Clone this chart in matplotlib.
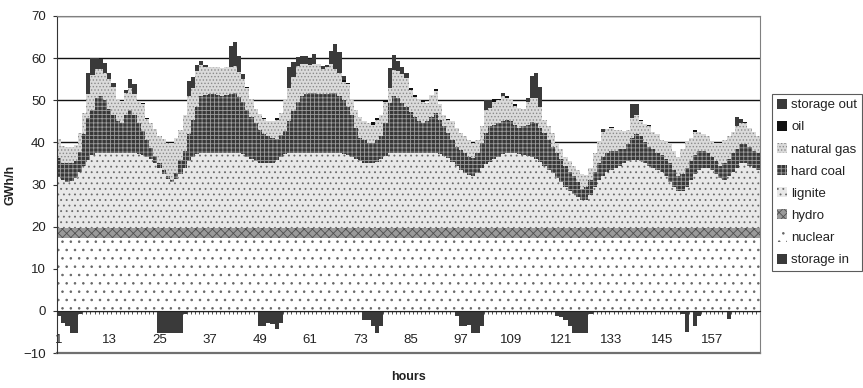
import numpy as np
import matplotlib.pyplot as plt
from matplotlib.patches import Patch

plt.rcParams['font.family'] = ['Liberation Sans', 'DejaVu Sans']
plt.rcParams['hatch.linewidth'] = 0.6

hours = np.arange(1, 169)

# GWh/h per hour, one line per day
nuclear = [17.3] * 168
hydro = [2.3] * 168

# upper edge of each stacked layer
lignite_top = [
	31.8, 31.0, 30.7, 30.8, 31.5, 33.0, 34.5, 35.9, 37.0, 37.5, 37.5, 37.5, 37.5, 37.5, 37.5, 37.5, 37.5, 37.5, 37.5, 37.3, 37.0, 36.6, 36.0, 35.2,
	34.0, 32.6, 31.4, 30.7, 31.2, 32.5, 34.0, 35.5, 36.6, 37.3, 37.5, 37.5, 37.5, 37.5, 37.5, 37.5, 37.5, 37.5, 37.5, 37.5, 37.2, 36.6, 36.0, 35.5,
	35.2, 35.0, 35.0, 35.2, 35.8, 36.5, 37.2, 37.5, 37.5, 37.5, 37.5, 37.5, 37.5, 37.5, 37.5, 37.5, 37.5, 37.5, 37.5, 37.5, 37.3, 37.0, 36.5, 36.0,
	35.5, 35.2, 35.0, 35.0, 35.3, 36.0, 36.8, 37.5, 37.5, 37.5, 37.5, 37.5, 37.5, 37.5, 37.5, 37.5, 37.5, 37.5, 37.5, 37.2, 36.8, 36.2, 35.3, 34.3,
	33.5, 32.8, 32.2, 32.0, 32.8, 34.0, 34.8, 35.3, 36.0, 36.5, 37.2, 37.5, 37.5, 37.5, 37.3, 37.0, 36.8, 36.5, 36.0, 35.3, 34.5, 33.5, 32.8, 31.5,
	30.5, 29.5, 28.5, 27.8, 27.0, 26.4, 26.4, 27.5, 29.5, 31.0, 32.0, 33.0, 33.5, 34.0, 34.5, 35.0, 35.5, 35.7, 35.8, 35.6, 35.0, 34.5, 34.0, 33.5,
	33.0, 32.0, 30.5, 29.3, 28.5, 28.5, 29.5, 31.0, 32.5, 33.5, 34.0, 34.0, 33.5, 32.5, 31.5, 31.0, 32.0, 33.0, 34.0, 35.0, 35.0, 34.5, 34.0, 33.5,
]
coal_top = [
	36.3, 35.1, 35.0, 35.0, 35.5, 37.8, 42.0, 45.8, 47.7, 50.5, 51.0, 50.0, 48.0, 46.5, 45.0, 44.5, 46.4, 47.8, 46.4, 44.5, 42.6, 40.6, 38.6, 36.7,
	35.0, 33.5, 32.0, 31.0, 32.7, 35.8, 38.0, 42.0, 45.4, 48.5, 51.0, 51.3, 51.5, 51.5, 51.2, 51.0, 51.3, 51.5, 51.8, 50.8, 49.5, 47.8, 46.0, 44.5,
	43.0, 42.0, 41.5, 41.0, 40.8, 41.8, 42.8, 45.0, 47.5, 49.5, 51.0, 51.5, 51.8, 51.8, 51.5, 51.5, 51.5, 51.8, 51.8, 51.0, 50.0, 48.5, 46.5, 43.5,
	41.0, 40.5, 39.8, 39.8, 40.6, 41.5, 44.6, 49.3, 50.9, 50.5, 49.3, 48.5, 47.3, 46.1, 45.0, 44.6, 45.0, 46.1, 46.9, 45.4, 43.8, 42.2, 40.6, 39.0,
	38.3, 37.5, 36.5, 36.3, 37.5, 39.8, 42.2, 43.8, 44.2, 44.6, 45.0, 45.4, 45.0, 44.2, 43.4, 43.8, 44.2, 44.8, 44.5, 43.5, 42.2, 40.6, 39.0, 37.5,
	36.0, 34.5, 33.0, 32.0, 30.5, 29.0, 29.3, 31.0, 33.0, 35.0, 36.5, 37.5, 38.0, 38.0, 38.5, 38.5, 39.5, 41.0, 42.0, 41.5, 40.0, 39.0, 38.5, 37.5,
	37.0, 36.0, 35.0, 33.5, 32.0, 32.5, 34.0, 35.5, 37.0, 38.0, 38.0, 37.5, 36.5, 35.5, 34.5, 35.0, 36.0, 37.5, 38.5, 39.5, 39.5, 39.0, 38.0, 37.5,
]
gas_top = [
	40.8, 39.2, 39.0, 39.0, 39.3, 42.2, 47.0, 51.5, 56.0, 57.5, 57.5, 56.5, 55.0, 53.2, 50.0, 49.8, 51.8, 53.0, 51.5, 49.6, 49.0, 45.6, 44.5, 43.2,
	41.6, 40.8, 39.8, 39.5, 41.0, 43.0, 46.5, 51.0, 53.0, 57.0, 58.3, 58.0, 58.0, 57.8, 57.8, 57.7, 57.8, 58.0, 58.2, 56.8, 55.0, 52.8, 50.2, 48.0,
	46.8, 45.5, 45.0, 45.0, 45.3, 47.0, 50.0, 53.0, 55.5, 58.2, 58.5, 58.5, 58.3, 58.5, 58.7, 57.3, 58.0, 58.5, 57.5, 56.4, 54.4, 53.8, 50.0, 47.7,
	46.0, 45.0, 44.5, 44.2, 45.4, 46.5, 49.5, 52.8, 57.2, 57.0, 56.2, 55.2, 52.5, 50.8, 50.0, 49.5, 49.3, 51.3, 52.2, 49.0, 46.5, 45.2, 45.0, 43.5,
	42.2, 41.4, 40.6, 39.8, 40.6, 43.8, 47.7, 48.1, 49.7, 50.0, 50.9, 50.6, 50.0, 48.6, 48.1, 48.0, 49.7, 50.5, 50.5, 48.5, 45.4, 43.8, 42.2, 39.5,
	38.5, 36.5, 35.5, 34.5, 33.5, 32.5, 32.3, 34.0, 37.5, 40.0, 42.5, 43.2, 43.3, 43.0, 43.0, 42.8, 43.0, 45.7, 46.5, 45.0, 44.3, 43.8, 42.5, 42.0,
	40.5, 40.0, 39.5, 38.0, 36.5, 38.5, 40.0, 41.0, 42.5, 42.5, 42.0, 41.5, 40.0, 39.5, 39.5, 40.5, 41.5, 42.5, 44.0, 44.5, 44.5, 43.5, 42.5, 41.5,
]
oil = [
	0, 0, 0, 0, 0, 0, 0, 0, 0, 0, 0, 0, 0, 0, 0, 0, 0, 0, 0, 0, 0.4, 0.3, 0, 0,
	0, 0, 0, 0, 0, 0, 0, 0, 0, 0, 0, 0, 0, 0, 0, 0, 0, 0, 0, 0, 0, 0.4, 0, 0,
	0, 0.4, 0, 0, 0.4, 0, 0, 0, 0, 0, 0, 0, 0, 0, 0, 0, 0, 0, 0, 0, 0.5, 0.3, 0, 0,
	0, 0, 0, 0.6, 0.5, 0, 0.3, 0, 0, 0, 0, 0, 0.4, 0.4, 0, 0.3, 0, 0, 0.4, 0, 0, 0.4, 0, 0,
	0, 0, 0, 0, 0, 0, 0, 0, 0.5, 0.4, 0, 0.5, 0, 0.4, 0, 0, 0, 0, 0, 0, 0, 0, 0, 0,
	0, 0, 0, 0, 0, 0, 0, 0, 0, 0, 0, 0, 0.4, 0, 0, 0, 0, 0, 0, 0.3, 0, 0.4, 0, 0,
	0, 0, 0, 0, 0, 0, 0, 0, 0.5, 0, 0, 0, 0, 0, 0, 0, 0, 0, 0, 0, 0.3, 0, 0, 0,
]
storage_out = [
	0, 0, 0, 0, 0, 0, 0, 5.0, 4.0, 2.5, 2.3, 2.3, 1.4, 1.0, 0, 0, 0.7, 2.0, 2.3, 0, 0, 0, 0, 0,
	0, 0, 0, 0, 0, 0, 0, 3.5, 2.5, 1.3, 0.9, 0.3, 0, 0, 0, 0, 0, 4.8, 5.6, 3.7, 1.3, 0, 0, 0,
	0, 0, 0, 0, 0, 0, 0, 5.0, 3.5, 2.0, 1.9, 2.0, 1.5, 2.5, 0, 0.8, 0.4, 3.3, 5.8, 5.0, 0.8, 0, 0, 0,
	0, 0, 0, 0, 0, 0, 0, 4.8, 3.5, 2.2, 1.8, 1.2, 0, 0, 0, 0, 0, 0, 0, 0, 0, 0, 0, 0,
	0, 0, 0, 0, 0, 0, 2.3, 1.9, 0, 0, 0.8, 0, 0, 0, 0, 0, 0.8, 5.2, 5.9, 4.7, 0, 0, 0, 0,
	0, 0, 0, 0, 0, 0, 0, 0, 0, 0, 0.6, 0, 0, 0, 0, 0, 0, 3.5, 2.5, 0, 0, 0, 0, 0,
	0, 0, 0, 0, 0, 0, 0, 0, 0, 0, 0, 0, 0, 0, 0, 0, 0, 0, 2.0, 1.0, 0, 0, 0, 0,
]
storage_in = [
	-1.2, -2.8, -3.7, -5.2, -5.2, -0.7, 0, 0, 0, 0, 0, 0, 0, 0, 0, 0, 0, 0, 0, 0, 0, 0, 0, 0,
	-5.3, -5.3, -5.3, -5.3, -5.3, -5.3, -0.7, 0, 0, 0, 0, 0, 0, 0, 0, 0, 0, 0, 0, 0, 0, 0, 0, 0,
	-3.5, -3.5, -2.8, -3.2, -4.3, -2.8, 0, 0, 0, 0, 0, 0, 0, 0, 0, 0, 0, 0, 0, 0, 0, 0, 0, 0,
	0, -2.1, -2.1, -3.7, -5.3, -3.7, 0, 0, 0, 0, 0, 0, 0, 0, 0, 0, 0, 0, 0, 0, 0, 0, 0, -1.3,
	-3.7, -3.7, -3.3, -5.3, -5.3, -3.7, 0, 0, 0, 0, 0, 0, 0, 0, 0, 0, 0, 0, 0, 0, 0, 0, 0, -1.3,
	-1.5, -2.2, -3.5, -5.3, -5.3, -5.3, -5.3, -0.7, 0, 0, 0, 0, 0, 0, 0, 0, 0, 0, 0, 0, 0, 0, 0, 0,
	0, 0, 0, 0, 0, -0.7, -5.0, 0, -3.5, -1.2, 0, 0, 0, 0, 0, 0, -2.0, 0, 0, 0, 0, 0, 0, 0,
]

nuc = np.array(nuclear)
hyd = np.array(hydro)
lignite = np.array(lignite_top) - nuc - hyd
hard_coal = np.array(coal_top) - np.array(lignite_top)
natural_gas = np.array(gas_top) - np.array(coal_top)

# (name, values, face, hatch, hatch colour)
layers = [
	('nuclear', nuc, 'white', '..', '#666666'),
	('hydro', hyd, '#9a9a9a', 'xxxx', '#505050'),
	('lignite', lignite, '#e8e8e8', '...', '#6a6a6a'),
	('hard coal', hard_coal, '#383838', '++++', '#9c9c9c'),
	('natural gas', natural_gas, '#dadada', '.....', '#8a8a8a'),
	('oil', np.array(oil), '#111111', None, '#111111'),
	('storage out', np.array(storage_out), '#3a3a3a', None, '#3a3a3a'),
]

fig = plt.figure(figsize=(8.63, 3.88), dpi=100)
ax = fig.add_axes([57 / 863, 1 - 353 / 388, 703 / 863, 337 / 388])

handles = {}
bottom = np.zeros(len(hours))
for name, vals, face, hatch, hcol in layers:
	ax.bar(hours, vals, width=1.0, bottom=bottom, color=face, edgecolor=hcol,
		   hatch=hatch, linewidth=0)
	bottom = bottom + vals
	handles[name] = Patch(facecolor=face, edgecolor=hcol, hatch=hatch, linewidth=0)

ax.bar(hours, storage_in, width=1.0, color='#3a3a3a', linewidth=0)
handles['storage in'] = Patch(facecolor='#3a3a3a', linewidth=0)

ax.set_xlim(0.5, 168.5)
ax.set_ylim(-10, 70)
ax.set_axisbelow(True)
ax.yaxis.grid(True, color='#111111', linewidth=1.0)
ax.set_yticks(range(-10, 71, 10))

ax.spines['bottom'].set_position(('data', 0))
ax.spines['bottom'].set_color('#222222')
ax.spines['left'].set_color('#333333')
for s in ('top', 'right'):
	ax.spines[s].set_color('#808080')
ax.axhline(-10, color='#707070', linewidth=1.6, clip_on=False)

ax.set_xticks(hours[::12])
ax.set_xticklabels([str(h) for h in hours[::12]])
ax.set_xticks(hours - 0.5, minor=True)
ax.tick_params(axis='x', which='major', length=0, pad=16.5, labelsize=9.5, labelcolor='#222222')
ax.tick_params(axis='x', which='minor', length=2.5, width=0.6, color='#333333', direction='out')
ax.tick_params(axis='y', length=3, color='#333333', pad=5, labelsize=9.5, labelcolor='#222222')

ax.set_ylabel('GWh/h', fontsize=9, fontweight='bold', color='#222222')
ax.yaxis.set_label_coords(-0.057, 0.5)
ax.set_xlabel('hours', fontsize=9, fontweight='bold', color='#222222')
ax.xaxis.set_label_coords(0.5, -0.053)

order = ['storage out', 'oil', 'natural gas', 'hard coal', 'lignite', 'hydro', 'nuclear', 'storage in']
leg = fig.legend([handles[n] for n in order], order, loc='upper left',
				 bbox_to_anchor=(772 / 863, 1 - 94 / 388), fontsize=9.5,
				 frameon=True, fancybox=False, edgecolor='#333333',
				 handlelength=0.8, handleheight=0.8, handletextpad=0.3,
				 labelspacing=0.72, borderpad=0.35, borderaxespad=0)
leg.get_frame().set_linewidth(0.8)
for t in leg.get_texts():
	t.set_color('#222222')

fig.savefig('out.png', dpi=100)
